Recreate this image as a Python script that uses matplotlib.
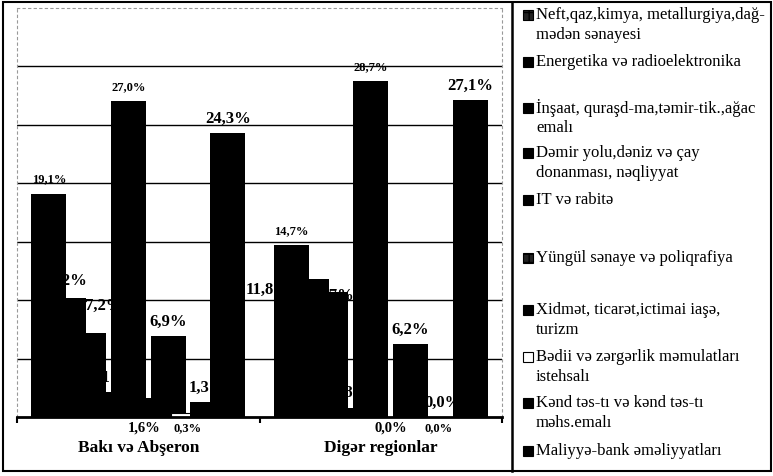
import matplotlib
matplotlib.use("Agg")
import matplotlib.pyplot as plt
from matplotlib.patches import Rectangle
import numpy as np

plt.rcParams['font.family'] = ['Liberation Serif', 'DejaVu Serif']

regions = ['Bakı və Abşeron', 'Digər regionlar']
sectors = [
    'Neft,qaz,kimya, metallurgiya,dağ-\nmədən sənayesi',
    'Energetika və radioelektronika',
    'İnşaat, quraşd-ma,təmir-tik.,ağac\nemalı',
    'Dəmir yolu,dəniz və çay\ndonanması, nəqliyyat',
    'IT və rabitə',
    'Yüngül sənaye və poliqrafiya',
    'Xidmət, ticarət,ictimai iaşə,\nturizm',
    'Bədii və zərgərlik məmulatları\nistehsalı',
    'Kənd təs-tı və kənd təs-tı\nməhs.emalı',
    'Maliyyə-bank əməliyyatları',
]
baki = [19.1, 10.2, 7.2, 2.1, 27.0, 1.6, 6.9, 0.3, 1.3, 24.3]
diger = [14.7, 11.8, 10.7, 0.8, 28.7, 0.0, 6.2, 0.0, 0.0, 27.1]

# bar styles per sector
face = ['black'] * 10
face[7] = 'white'
lbl_size = [9, 12, 12, 12, 9, 10.5, 12, 9, 12, 12]
below = [False] * 10
below[5] = below[7] = True

# hand-placed value labels: (sector, region) -> offset in points
moved = {
    (1, 0): (-3, 13),
    (2, 0): (11, 20),
    (5, 0): (-3, -7),
    (1, 1): (-31, -7),
    (2, 1): (0, -2),
    (7, 1): (6, -7),
    (8, 1): (-5, 11),
}

W, H = 773, 477
fig = plt.figure(figsize=(W / 100, H / 100), dpi=100)
ax = fig.add_axes([17 / W, (H - 418) / H, 485 / W, 409.5 / H])

x = np.arange(len(regions))
step, width = 0.082, 0.144
for i, name in enumerate(sectors):
    vals = [baki[i], diger[i]]
    pos = x + (i - 4.5) * step
    lw = 0.8 if face[i] == 'white' else 0
    ax.bar(pos, vals, width, color=face[i], edgecolor='black', linewidth=lw)
    for j, (p, v) in enumerate(zip(pos, vals)):
        txt = f'{v:.1f}'.replace('.', ',') + '%'
        off = moved.get((i, j), (0, -7) if below[i] else (0, 11))
        anchor = (p, 0) if below[i] else (p, v)
        ax.annotate(txt, anchor, xytext=off, textcoords='offset points',
                    ha='center', va='center', fontsize=lbl_size[i],
                    fontweight='bold', annotation_clip=False, zorder=5)

ax.set_xlim(-0.5, 1.5)
ax.set_ylim(0, 35)
ax.set_yticks(np.arange(5, 31, 5))
ax.yaxis.grid(True, color='black', linewidth=1)
ax.set_axisbelow(True)
ax.tick_params(axis='y', length=0, labelleft=False)

ax.set_xticks(x)
ax.set_xticklabels(regions, fontsize=12.5, fontweight='bold')
ax.tick_params(axis='x', which='major', length=0, pad=16)
ax.set_xticks([-0.5, 0.5, 1.5], minor=True)
ax.tick_params(axis='x', which='minor', length=4, width=1.5, direction='out')

ax.spines['bottom'].set_linewidth(2)
for s in ['left', 'top', 'right']:
    ax.spines[s].set_color('#999999')
    ax.spines[s].set_linestyle((0, (2, 3)))
    ax.spines[s].set_linewidth(0.8)


def fx(px):
    return px / W


def fy(py):
    return 1 - py / H


# outer frame and the legend panel divider
fig.add_artist(Rectangle((fx(3), fy(472)), fx(768), 469 / H, fill=False,
                         edgecolor='black', linewidth=1.5, transform=fig.transFigure))
fig.add_artist(plt.Line2D([fx(512), fx(512)], [fy(3), fy(472)], color='black',
                          linewidth=1.8, transform=fig.transFigure))

# legend entries
rows = [15, 62, 108, 153, 200, 258, 310, 357, 403, 451]
for i, name in enumerate(sectors):
    y0 = rows[i]
    hatch = '++' if i in (0, 5) else None
    fig.add_artist(Rectangle((fx(523), fy(y0 + 5.5)), 10 / W, 10 / H,
                             facecolor='#222222' if hatch else face[i],
                             edgecolor='black', linewidth=0.8,
                             hatch=hatch, transform=fig.transFigure))
    for k, line in enumerate(name.split('\n')):
        fig.text(fx(536), fy(y0 + k * 20), line, fontsize=12,
                 ha='left', va='center')

fig.savefig('out.png', dpi=100, facecolor='white')
